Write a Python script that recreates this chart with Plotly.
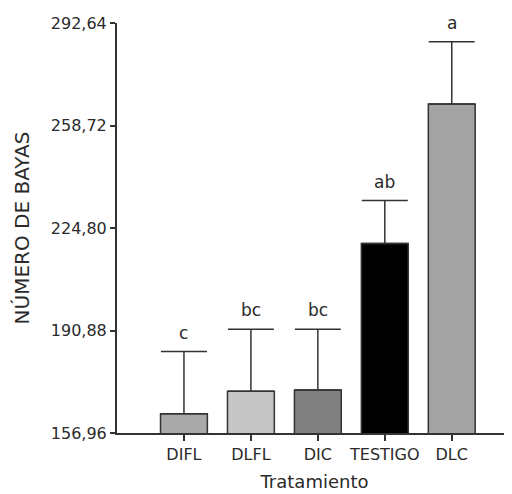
import plotly.graph_objects as go

categories = ["DIFL", "DLFL", "DIC", "TESTIGO", "DLC"]
means = [163.3, 170.8, 171.2, 219.7, 265.8]
errors = [20.6, 20.5, 20.1, 14.2, 20.6]
letters = ["c", "bc", "bc", "ab", "a"]
colors = ["#a9a9a9", "#c6c6c6", "#808080", "#000000", "#a3a3a3"]
ytick_vals = [156.96, 190.88, 224.80, 258.72, 292.64]
ytick_text = ["156,96", "190,88", "224,80", "258,72", "292,64"]

FONT = "DejaVu Sans, Arial"
TXT = "#2a2a2a"

fig = go.Figure()
fig.add_trace(go.Bar(
    x=categories, y=means, width=0.7,
    marker=dict(color=colors, line=dict(color="#333333", width=1.5)),
    error_y=dict(type="data", array=errors, arrayminus=[0]*len(errors), symmetric=False,
                 color="#333333", thickness=1.5, width=23),
    showlegend=False,
))

for c, m, e, l in zip(categories, means, errors, letters):
    fig.add_annotation(x=c, y=m + e, text=l, showarrow=False, yanchor="bottom", yshift=7,
                       font=dict(family=FONT, size=17, color=TXT))

fig.update_layout(
    width=504, height=486,
    margin=dict(l=109, r=0, t=15, b=61),
    paper_bgcolor="white", plot_bgcolor="white",
    font=dict(family=FONT, size=16, color=TXT),
)
fig.update_xaxes(
    type="category", range=[-1, 4.9],
    showline=True, linecolor="#333333", linewidth=2,
    ticks="outside", ticklen=6, tickwidth=1.5, tickcolor="#333333",
    tickfont=dict(family=FONT, size=16, color=TXT),
    title=dict(text="Tratamiento", font=dict(family=FONT, size=18, color=TXT), standoff=12),
    showgrid=False, zeroline=False,
)
fig.update_yaxes(
    range=[156.96, 292.64],
    tickvals=ytick_vals, ticktext=ytick_text,
    showline=True, linecolor="#333333", linewidth=2,
    ticks="outside", ticklen=5, tickwidth=1.5, tickcolor="#333333",
    tickfont=dict(family=FONT, size=16, color=TXT),
    title=dict(text="NÚMERO DE BAYAS", font=dict(family=FONT, size=20, color=TXT), standoff=16),
    showgrid=False, zeroline=False,
)

fig.write_html("out.html")
